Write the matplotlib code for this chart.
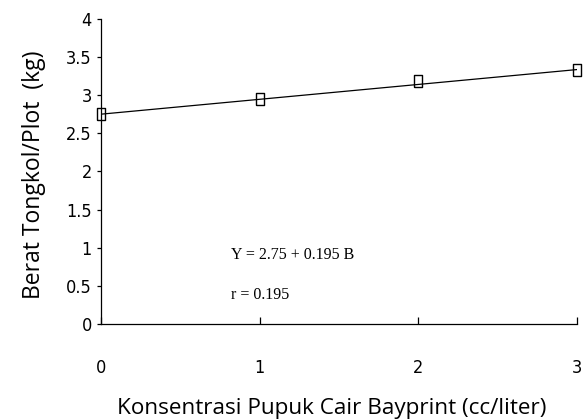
import matplotlib.pyplot as plt
import numpy as np

# data
konsentrasi = [0, 1, 2, 3]
berat = [2.75, 2.95, 3.18, 3.33]
intercept = 2.75
slope = 0.195
y_ticks = [0, 0.5, 1, 1.5, 2, 2.5, 3, 3.5, 4]
y_tick_labels = ['0', '0.5', '1', '1.5', '2', '2.5', '3', '3.5', '4']

fig = plt.figure(figsize=(5.87, 4.19), dpi=100)
ax = fig.add_axes([0.172, 0.227, 0.811, 0.728])

# tall open rectangle marker
rect = [(-0.6, -1), (0.6, -1), (0.6, 1), (-0.6, 1), (-0.6, -1)]

x_line = np.array([0, 3])
ax.plot(x_line, intercept + slope * x_line, color='black', lw=0.9)
ax.plot(konsentrasi, berat, linestyle='none', marker=rect, ms=9,
        mfc='none', mec='black', mew=1.0, clip_on=False)

ax.set_xlim(0, 3)
ax.set_ylim(0, 4)
ax.spines['top'].set_visible(False)
ax.spines['right'].set_visible(False)
for s in ['left', 'bottom']:
    ax.spines[s].set_linewidth(0.9)

tick_font = {'family': 'DejaVu Sans', 'stretch': 'condensed', 'size': 13}
ax.set_xticks(konsentrasi)
ax.set_xticklabels([str(k) for k in konsentrasi], fontdict=tick_font)
ax.set_yticks(y_ticks)
ax.set_yticklabels(y_tick_labels, fontdict=tick_font)
ax.tick_params(axis='x', direction='in', length=5, width=0.9, pad=25)
ax.tick_params(axis='y', direction='out', length=3, width=0.9, pad=3.5)

ax.set_xlabel('Konsentrasi Pupuk Cair Bayprint (cc/liter)', fontsize=16.2,
              family='Open Sans')
ax.set_ylabel('Berat Tongkol/Plot  (kg)', fontsize=16.5, family='Open Sans')
ax.xaxis.set_label_coords(0.485, -0.242)
ax.yaxis.set_label_coords(-0.115, 0.49)

ax.text(0.82, 0.9, 'Y = 2.75 + 0.195 B', family='Liberation Serif', fontsize=11.5,
        va='center')
ax.text(0.82, 0.38, 'r = 0.195', family='Liberation Serif', fontsize=11.5,
        va='center')

fig.savefig('out.png', dpi=100)
